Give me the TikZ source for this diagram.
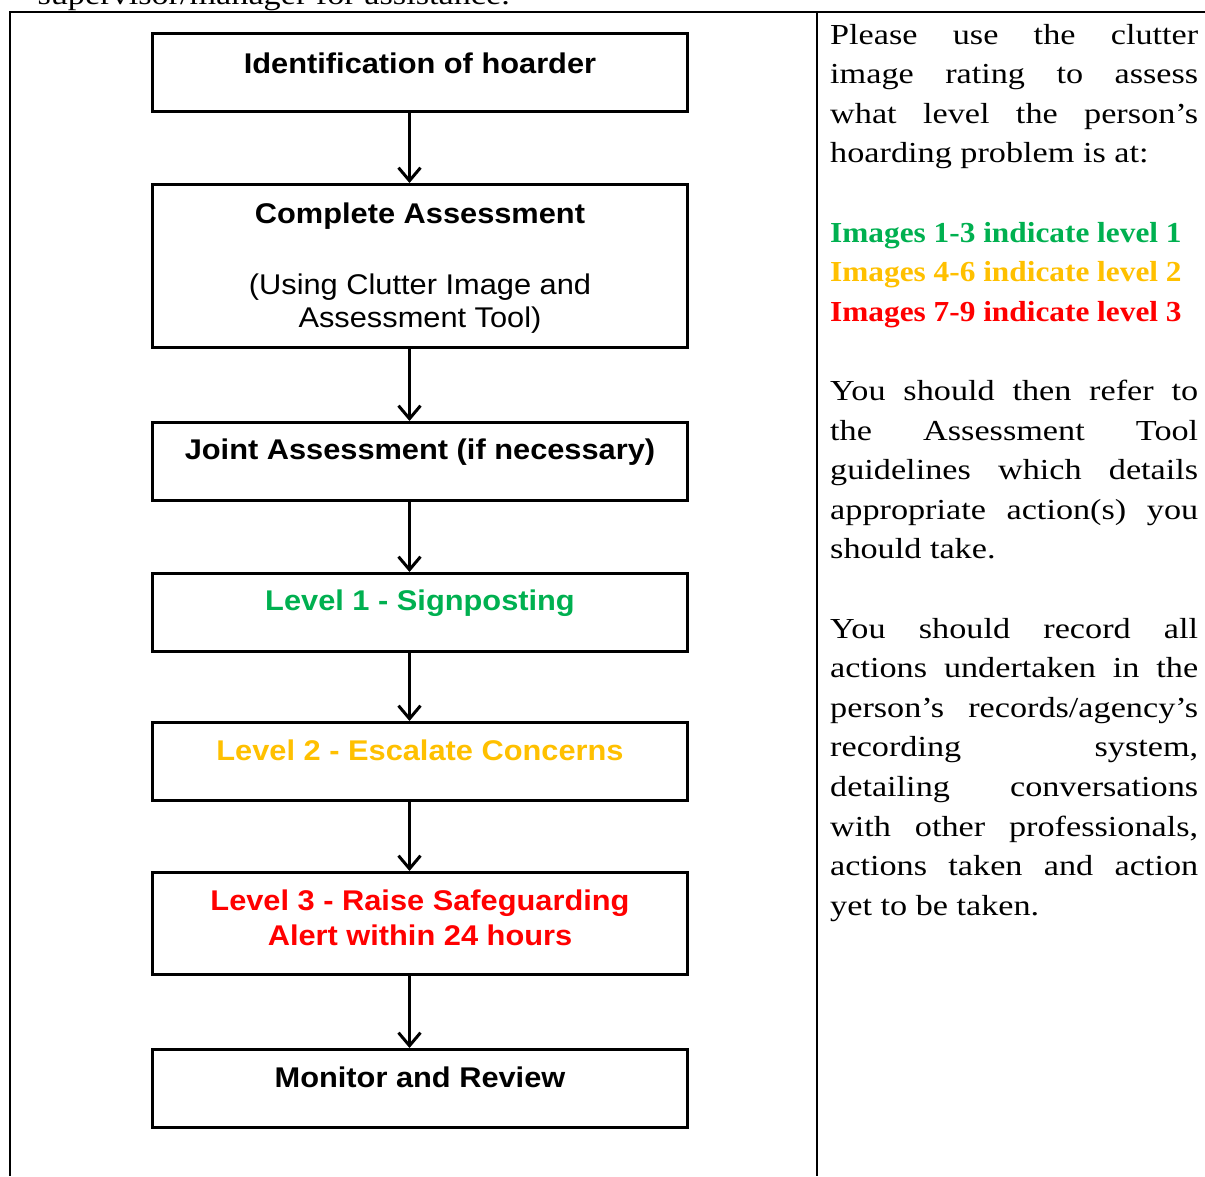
\documentclass[tikz,border=0pt]{standalone}
\usepackage{fontspec}
\setmainfont[FakeStretch=1.18]{Liberation Serif}
\newfontfamily\bserif[FakeStretch=1.08]{Liberation Serif}
\newfontfamily\flowfont[FakeStretch=1.08]{Liberation Sans}
\usetikzlibrary{arrows.meta}
\definecolor{lgreen}{HTML}{00B050}
\definecolor{lyellow}{HTML}{FFC000}
\definecolor{lred}{HTML}{FF0000}
\tikzset{
  flowbox/.style={draw=black, line width=3pt, minimum width=535pt, minimum height=#1,
    inner sep=0pt, anchor=north west},
  flowtxt/.style={font=\flowfont\fontsize{28.5}{34}\selectfont\bfseries, anchor=base, inner sep=0pt},
  flowsub/.style={font=\flowfont\fontsize{28.5}{34}\selectfont, anchor=base, inner sep=0pt},
  flowarr/.style={line width=3pt, -{Straight Barb[length=13pt,width=22pt]}},
  body/.style={font=\fontsize{29}{39.6}\selectfont, anchor=base west, inner sep=0pt},
  bodyb/.style={font=\bserif\bfseries\fontsize{29}{39.6}\selectfont, anchor=base west, inner sep=0pt},
  tablerule/.style={line width=1.8pt}
}
\newcommand{\jline}[1]{\makebox[368pt][s]{#1}}
\begin{document}
\begin{tikzpicture}[x=1pt,y=-1pt]
\useasboundingbox (0,0) rectangle (1205,1176);
% cropped line above the table
\node[body, anchor=base east] (toptext) at (510,4) {supervisor/manager for assistance.};
% table rules
\coordinate (tl) at (9,12);
\coordinate (tr) at (1205,12);
\coordinate (lb) at (10,1176);
\coordinate (dt) at (817,12);
\coordinate (db) at (817,1176);
\draw[tablerule] (tl) -- (tr);
\draw[tablerule] (10,12) -- (lb);
\draw[tablerule] (dt) -- (db);
% flow boxes
\node[flowbox=78pt]  (b1) at (151,32)   {};
\node[flowbox=163pt] (b2) at (151,183)  {};
\node[flowbox=78pt]  (b3) at (151,421)  {};
\node[flowbox=78pt]  (b4) at (151,572)  {};
\node[flowbox=78pt]  (b5) at (151,721)  {};
\node[flowbox=102pt] (b6) at (151,871)  {};
\node[flowbox=78pt]  (b7) at (151,1048) {};
% flow texts
\node[flowtxt] (t1) at ([yshift=-41pt]b1.north) {Identification of hoarder};
\node[flowtxt] (t2) at ([yshift=-40pt]b2.north) {Complete Assessment};
\node[flowsub] (t2a) at ([yshift=-111pt]b2.north) {(Using Clutter Image and};
\node[flowsub] (t2b) at ([yshift=-144pt]b2.north) {Assessment Tool)};
\node[flowtxt] (t3) at ([yshift=-38pt]b3.north) {Joint Assessment (if necessary)};
\node[flowtxt, text=lgreen] (t4) at ([yshift=-38pt]b4.north) {Level 1 - Signposting};
\node[flowtxt, text=lyellow] (t5) at ([yshift=-39pt]b5.north) {Level 2 - Escalate Concerns};
\node[flowtxt, text=lred] (t6) at ([yshift=-39pt]b6.north) {Level 3 - Raise Safeguarding};
\node[flowtxt, text=lred] (t6a) at ([yshift=-74pt]b6.north) {Alert within 24 hours};
\node[flowtxt] (t7) at ([yshift=-39pt]b7.north) {Monitor and Review};
% connectors
\foreach \a/\b in {b1/b2,b2/b3,b3/b4,b4/b5,b5/b6,b6/b7}
  \draw[flowarr] ([xshift=-10.5pt]\a.south) -- ([xshift=-10.5pt]\b.north);
% right column text
\node[body] (p1)  at (830,44.0)  {\jline{Please use the clutter}};
\node[body] (p2)  at (830,83.6)  {\jline{image rating to assess}};
\node[body] (p3)  at (830,123.2) {\jline{what level the person’s}};
\node[body] (p4)  at (830,162.8) {hoarding problem is at:};
\node[bodyb, text=lgreen]  (p6) at (830,242.0) {Images 1-3 indicate level 1};
\node[bodyb, text=lyellow] (p7) at (830,281.6) {Images 4-6 indicate level 2};
\node[bodyb, text=lred]    (p8) at (830,321.2) {Images 7-9 indicate level 3};
\node[body] (p10) at (830,400.4) {\jline{You should then refer to}};
\node[body] (p11) at (830,440.0) {\jline{the Assessment Tool}};
\node[body] (p12) at (830,479.6) {\jline{guidelines which details}};
\node[body] (p13) at (830,519.2) {\jline{appropriate action(s) you}};
\node[body] (p14) at (830,558.8) {should take.};
\node[body] (p16) at (830,638.0) {\jline{You should record all}};
\node[body] (p17) at (830,677.6) {\jline{actions undertaken in the}};
\node[body] (p18) at (830,717.2) {\jline{person’s records/agency’s}};
\node[body] (p19) at (830,756.8) {\jline{recording system,}};
\node[body] (p20) at (830,796.4) {\jline{detailing conversations}};
\node[body] (p21) at (830,836.0) {\jline{with other professionals,}};
\node[body] (p22) at (830,875.6) {\jline{actions taken and action}};
\node[body] (p23) at (830,915.2) {yet to be taken.};
\end{tikzpicture}
\end{document}
